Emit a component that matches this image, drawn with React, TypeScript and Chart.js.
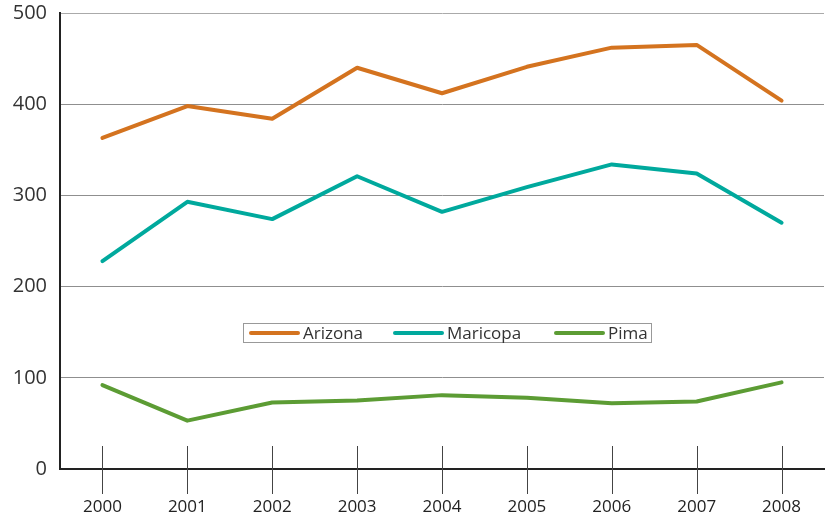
import React, { useEffect, useRef } from "react";
import { Chart, registerables } from "chart.js";

Chart.register(...registerables);

const years = ["2000", "2001", "2002", "2003", "2004", "2005", "2006", "2007", "2008"];
const arizona = [363, 398, 384, 440, 412, 441, 462, 465, 404];
const maricopa = [228, 293, 274, 321, 282, 309, 334, 324, 270];
const pima = [92, 53, 73, 75, 81, 78, 72, 74, 95];
const yTicks = [0, 100, 200, 300, 400, 500];

const seriesNames = ["Arizona", "Maricopa", "Pima"];
const seriesColors = ["#D4731F", "#00A99D", "#5C9C34"];
const legendItemWidths = [144, 161, 95];

const tickMarks = {
  id: "tickMarks",
  afterDraw(chart: any) {
    const xs = chart.scales.x;
    const ys = chart.scales.y;
    const y0 = ys.getPixelForValue(0);
    const ctx = chart.ctx;
    ctx.save();
    ctx.strokeStyle = "#444";
    ctx.lineWidth = 1;
    xs.ticks.forEach((_: any, i: number) => {
      const px = Math.round(xs.getPixelForTick(i)) + 0.5;
      ctx.beginPath();
      ctx.moveTo(px, y0 - 23);
      ctx.lineTo(px, y0 + 25);
      ctx.stroke();
    });
    ctx.restore();
  },
};

export default function App() {
  const ref = useRef<HTMLCanvasElement>(null);
  useEffect(() => {
    if (!ref.current) return;
    const values = [arizona, maricopa, pima];
    const chart = new Chart(ref.current, {
      type: "line",
      data: {
        labels: years,
        datasets: values.map((v, i) => ({
          label: seriesNames[i],
          data: v,
          borderColor: seriesColors[i],
          backgroundColor: seriesColors[i],
          borderWidth: 4,
          pointRadius: 0,
          tension: 0,
          borderJoinStyle: "round" as const,
          borderCapStyle: "round" as const,
        })),
      },
      options: {
        responsive: false,
        animation: false,
        layout: { padding: { top: 13, right: 3, left: 0, bottom: 0 } },
        plugins: { legend: { display: false }, tooltip: { enabled: false } },
        scales: {
          x: {
            offset: true,
            grid: { display: false },
            border: { display: true, color: "#222", width: 2 },
            ticks: {
              padding: 20,
              color: "#222",
              font: { family: "Open Sans", size: 17 },
            },
            afterFit(s: any) {
              s.height = 45;
              s.paddingLeft = 0;
              s.paddingRight = 0;
            },
          },
          y: {
            min: 0,
            max: 500,
            afterBuildTicks(s: any) {
              s.ticks = yTicks.map((v) => ({ value: v }));
            },
            grid: {
              drawTicks: false,
              color: (c: any) => (c.tick && c.tick.value === 500 ? "#aaaaaa" : "#8f8f8f"),
              lineWidth: 1,
            },
            border: { display: true, color: "#222", width: 2 },
            ticks: {
              padding: 13,
              color: "#333",
              font: { family: "Open Sans", size: 20 },
            },
            afterFit(s: any) {
              s.width = 60;
              s.paddingTop = 0;
              s.paddingBottom = 0;
            },
          },
        },
      },
      plugins: [tickMarks],
    });
    return () => chart.destroy();
  }, []);

  return (
    <div style={{ position: "absolute", left: 0, top: 0, width: 827, height: 514 }}>
      <canvas ref={ref} width={827} height={514} style={{ width: 827, height: 514, display: "block" }} />
      <div
        style={{
          position: "absolute",
          left: 243,
          top: 323,
          width: 402,
          height: 18,
          border: "1px solid #999",
          background: "#fff",
          display: "flex",
          alignItems: "center",
          paddingLeft: 5,
          boxSizing: "content-box",
          fontFamily: "Open Sans",
          fontSize: 17,
          color: "#333",
          whiteSpace: "nowrap",
        }}
      >
        {seriesNames.map((n, i) => (
          <div key={n} style={{ display: "flex", alignItems: "center", width: legendItemWidths[i], flex: "none" }}>
            <span
              style={{
                display: "inline-block",
                width: 51,
                height: 4,
                borderRadius: 2,
                background: seriesColors[i],
                marginRight: 3,
                flex: "none",
              }}
            />
            <span style={{ lineHeight: "18px" }}>{n}</span>
          </div>
        ))}
      </div>
    </div>
  );
}
